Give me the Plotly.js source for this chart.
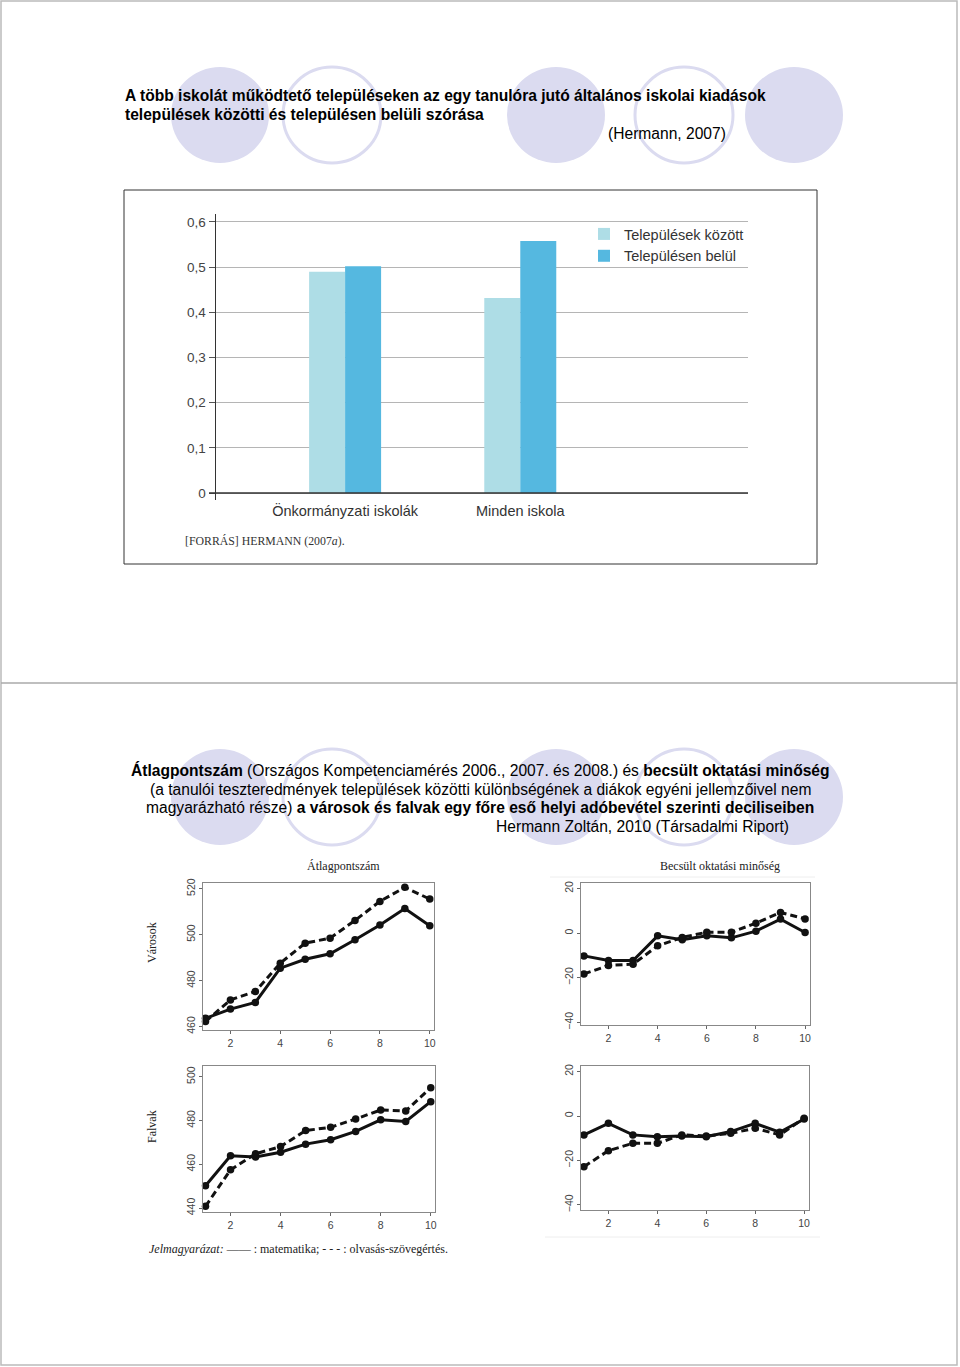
<!DOCTYPE html>
<html>
<head>
<meta charset="utf-8">
<script src="https://cdn.plot.ly/plotly-3.0.1.min.js"></script>
<style>html,body{margin:0;padding:0;background:#fff;}#chart{width:960px;height:1367px;}</style>
</head>
<body>
<div id="chart"></div>
<script>
// ---------- DATA ----------
const barCategories = ['Önkormányzati iskolák', 'Minden iskola'];
const barSeriesNames = ['Települések között', 'Településen belül'];
const betweenValues = [0.49, 0.432];
const withinValues = [0.502, 0.558];
const barTickVals = [0, 0.1, 0.2, 0.3, 0.4, 0.5, 0.6];
const barTickText = ['0', '0,1', '0,2', '0,3', '0,4', '0,5', '0,6'];

const deciles = [1, 2, 3, 4, 5, 6, 7, 8, 9, 10];
const decileTicks = [2, 4, 6, 8, 10];
// Városok – Átlagpontszám
const cityScoreMath = [463.6, 467.6, 470.5, 485.4, 489.3, 491.7, 497.8, 504.2, 511.4, 503.9];
const cityScoreRead = [462.2, 471.6, 475.3, 487.6, 496.3, 498.5, 506.2, 514.5, 520.6, 515.5];
// Városok – Becsült oktatási minőség
const cityQualMath = [-10.2, -12.3, -12.3, -1.2, -3.0, -1.2, -2.1, 0.9, 6.3, 0.3];
const cityQualRead = [-18.3, -14.5, -13.9, -5.7, -1.9, 0.4, 0.4, 4.5, 9.3, 6.4];
// Falvak – Átlagpontszám
const villScoreMath = [450.2, 463.9, 463.3, 465.5, 469.2, 471.2, 475.0, 480.3, 479.6, 488.6];
const villScoreRead = [440.8, 457.5, 464.8, 468.1, 475.4, 476.9, 480.7, 484.8, 484.3, 495.0];
// Falvak – Becsült oktatási minőség
const villQualMath = [-8.5, -3.3, -8.5, -9.3, -9.0, -9.3, -7.0, -3.3, -7.3, -1.4];
const villQualRead = [-22.8, -15.6, -12.3, -12.3, -8.5, -9.0, -7.8, -5.5, -8.5, -1.0];
const scoreTicksCity = [460, 480, 500, 520];
const scoreTicksVill = [440, 460, 480, 500];
const qualTicks = [-40, -20, 0, 20];

// ---------- HELPERS (pixel -> paper) ----------
const W = 960, H = 1367;
const fx = p => p / W;
const fy = p => 1 - p / H;

const traces = [];
traces.push({
  type: 'bar', x: barCategories, y: betweenValues, name: barSeriesNames[0],
  marker: {color: '#aedde6'}, xaxis: 'x', yaxis: 'y', hoverinfo: 'none'
});
traces.push({
  type: 'bar', x: barCategories, y: withinValues, name: barSeriesNames[1],
  marker: {color: '#55b8e0'}, xaxis: 'x', yaxis: 'y', hoverinfo: 'none'
});

function addLines(xa, ya, math, read) {
  traces.push({
    type: 'scatter', mode: 'lines+markers', x: deciles, y: math, xaxis: xa, yaxis: ya,
    line: {color: '#111', width: 3}, marker: {color: '#111', size: 7.5},
    showlegend: false, hoverinfo: 'none', cliponaxis: false
  });
  traces.push({
    type: 'scatter', mode: 'lines+markers', x: deciles, y: read, xaxis: xa, yaxis: ya,
    line: {color: '#111', width: 3, dash: '7px,4px'}, marker: {color: '#111', size: 7.5},
    showlegend: false, hoverinfo: 'none', cliponaxis: false
  });
}
addLines('x2', 'y2', cityScoreMath, cityScoreRead);
addLines('x3', 'y3', cityQualMath, cityQualRead);
addLines('x4', 'y4', villScoreMath, villScoreRead);
addLines('x5', 'y5', villQualMath, villQualRead);

const smallTickFont = {family: 'Liberation Sans, Arial, sans-serif', size: 10.5, color: '#444'};
function lineX(x0, x1, anchor) {
  return {
    domain: [fx(x0), fx(x1)], anchor: anchor, range: [0.9, 10.17],
    tickvals: decileTicks, ticks: 'outside', ticklen: 3, tickcolor: '#666',
    showline: true, mirror: true, linecolor: '#888', linewidth: 1,
    showgrid: false, zeroline: false, tickfont: smallTickFont, fixedrange: true
  };
}
function lineY(y0, y1, range, ticks, anchor) {
  return {
    domain: [fy(y1), fy(y0)], anchor: anchor, range: range,
    tickvals: ticks, ticks: 'outside', ticklen: 3, tickcolor: '#666', tickangle: -90,
    showline: true, mirror: true, linecolor: '#888', linewidth: 1,
    showgrid: false, zeroline: false, tickfont: smallTickFont, fixedrange: true
  };
}

const lav = 'rgb(219,219,240)';
const shapes = [];
// page border and slide separator
shapes.push({type: 'rect', xref: 'paper', yref: 'paper', x0: fx(1), x1: fx(957), y0: fy(1365), y1: fy(1),
  line: {color: '#bbb', width: 1.5}, layer: 'below'});
shapes.push({type: 'line', xref: 'paper', yref: 'paper', x0: fx(1), x1: fx(957), y0: fy(683), y1: fy(683),
  line: {color: '#aaa', width: 1.5}, layer: 'below'});
// decorative circles
const circleCentersX = [220, 332, 556, 684, 794];
const circleFilled = [true, false, true, false, true];
[115, 797].forEach(cy => {
  circleCentersX.forEach((cx, i) => {
    shapes.push({
      type: 'circle', xref: 'paper', yref: 'paper', layer: 'below',
      x0: fx(cx - 49), x1: fx(cx + 49), y0: fy(cy + 48), y1: fy(cy - 48),
      fillcolor: circleFilled[i] ? lav : 'rgba(0,0,0,0)',
      line: {color: lav, width: circleFilled[i] ? 0 : 3}
    });
  });
});
// bar chart frame
shapes.push({type: 'rect', xref: 'paper', yref: 'paper', x0: fx(124), x1: fx(817), y0: fy(564), y1: fy(190),
  line: {color: '#333', width: 1}, fillcolor: 'rgba(0,0,0,0)', layer: 'below'});
// bar chart baseline (extends left of y axis)
shapes.push({type: 'line', xref: 'paper', yref: 'y', x0: fx(209), x1: fx(748), y0: 0, y1: 0,
  line: {color: '#333', width: 1.5}});
// faint separators in the lower figure
shapes.push({type: 'line', xref: 'paper', yref: 'paper', x0: fx(550), x1: fx(815), y0: fy(877), y1: fy(877),
  line: {color: '#eee', width: 1}, layer: 'below'});
shapes.push({type: 'line', xref: 'paper', yref: 'paper', x0: fx(545), x1: fx(820), y0: fy(1237), y1: fy(1237),
  line: {color: '#eee', width: 1}, layer: 'below'});

const sans = 'Liberation Sans, Arial, sans-serif';
const serif = 'Liberation Serif, Times New Roman, serif';
function ann(text, x, y, opts) {
  return Object.assign({
    text: text, xref: 'paper', yref: 'paper', x: fx(x), y: fy(y),
    showarrow: false, xanchor: 'left', yanchor: 'middle',
    font: {family: sans, size: 15.6, color: '#000'}
  }, opts || {});
}
const serifSmall = {family: serif, size: 12, color: '#222'};
const annotations = [
  ann('<b>A több iskolát működtető településeken az egy tanulóra jutó általános iskolai kiadások</b>', 123, 96),
  ann('<b>települések közötti és településen belüli szórása</b>', 123, 115),
  ann('(Hermann, 2007)', 728, 134, {xanchor: 'right'}),
  ann('[FORRÁS] HERMANN (2007<i>a</i>).', 183, 541, {font: {family: serif, size: 11.8, color: '#333'}}),
  ann('<b>Átlagpontszám</b> (Országos Kompetenciamérés 2006., 2007. és 2008.) és <b>becsült oktatási minőség</b>', 480, 770, {xanchor: 'center'}),
  ann('(a tanulói teszteredmények települések közötti különbségének a diákok egyéni jellemzőivel nem', 480, 789, {xanchor: 'center'}),
  ann('magyarázható része) <b>a városok és falvak egy főre eső helyi adóbevétel szerinti deciliseiben</b>', 480, 807, {xanchor: 'center'}),
  ann('Hermann Zoltán, 2010 (Társadalmi Riport)', 494, 826),
  ann('Átlagpontszám', 343, 866, {xanchor: 'center', font: serifSmall}),
  ann('Becsült oktatási minőség', 720, 866, {xanchor: 'center', font: serifSmall}),
  ann('Városok', 152, 943, {xanchor: 'center', textangle: -90, font: serifSmall}),
  ann('Falvak', 152, 1127, {xanchor: 'center', textangle: -90, font: serifSmall}),
  ann('<i>Jelmagyarázat:</i> —— : matematika; - - - : olvasás-szövegértés.', 147, 1249, {font: serifSmall})
];

const layout = {
  width: W, height: H,
  margin: {l: 0, r: 0, t: 0, b: 0},
  paper_bgcolor: '#fff', plot_bgcolor: 'rgba(0,0,0,0)',
  barmode: 'group', bargap: 0.589, bargroupgap: 0,
  showlegend: true,
  legend: {x: fx(584), y: fy(218), xanchor: 'left', yanchor: 'top', bgcolor: 'rgba(0,0,0,0)',
    font: {family: sans, size: 14.5, color: '#333'}, tracegroupgap: 0},
  xaxis: {domain: [fx(216), fx(748)], anchor: 'y', range: [-0.737, 2.3], type: 'category',
    showline: false, ticks: '', showgrid: false, zeroline: false,
    tickfont: {family: sans, size: 14.5, color: '#333'}, fixedrange: true},
  yaxis: {domain: [fy(500), fy(214)], anchor: 'x', range: [-0.0155, 0.6177],
    tickvals: barTickVals, ticktext: barTickText, ticks: 'outside', ticklen: 6, tickcolor: '#555',
    showline: true, linecolor: '#333', linewidth: 1.5, showgrid: true, gridcolor: '#b5b5b5', gridwidth: 1,
    zeroline: false, tickfont: {family: sans, size: 13.5, color: '#444'}, fixedrange: true},
  xaxis2: lineX(203, 434, 'y2'),
  yaxis2: lineY(883, 1030, [458.5, 522.5], scoreTicksCity, 'x2'),
  xaxis3: Object.assign(lineX(581, 810, 'y3'), {range: [0.88, 10.2]}),
  yaxis3: lineY(883, 1025, [-41.2, 22.5], qualTicks, 'x3'),
  xaxis4: lineX(203, 435, 'y4'),
  yaxis4: lineY(1066, 1212, [438.2, 504.9], scoreTicksVill, 'x4'),
  xaxis5: Object.assign(lineX(581, 809, 'y5'), {range: [0.88, 10.2]}),
  yaxis5: lineY(1066, 1210, [-42.3, 22.5], qualTicks, 'x5'),
  shapes: shapes,
  annotations: annotations
};

Plotly.newPlot('chart', traces, layout, {displayModeBar: false, staticPlot: true});
</script>
</body>
</html>
